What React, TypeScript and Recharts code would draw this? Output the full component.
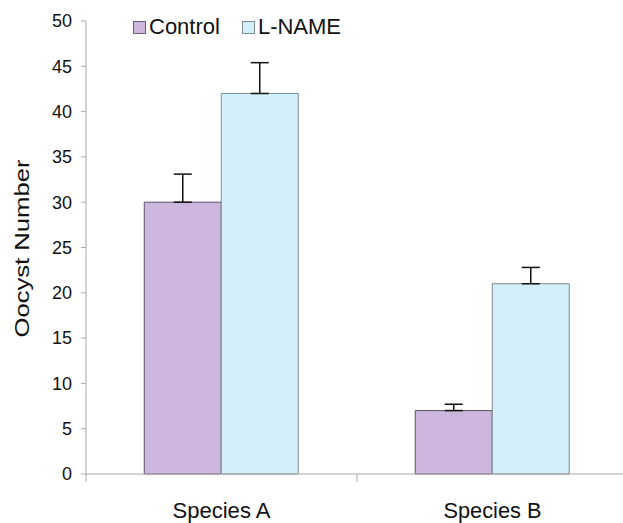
import React from "react";
import { Bar, BarChart, ErrorBar, XAxis, YAxis } from "recharts";

const categories = ["Species A", "Species B"];
const controlValues = [30, 7];
const controlErrors = [3.1, 0.7];
const lnameValues = [42, 21];
const lnameErrors = [3.4, 1.8];
const yTicks = [0, 5, 10, 15, 20, 25, 30, 35, 40, 45, 50];

const data = categories.map((name, i) => ({
  name,
  control: controlValues[i],
  controlErr: [0, controlErrors[i]],
  lname: lnameValues[i],
  lnameErr: [0, lnameErrors[i]],
}));

const font = "'Liberation Sans', Arial, sans-serif";

function CategoryTick({ x, y, payload }: any) {
  return (
    <g>
      <line x1={x - 135.5} x2={x - 135.5} y1={y - 8} y2={y} stroke="#aaa" />
      <text
        x={x}
        y={y + 36}
        textAnchor="middle"
        fontSize={22}
        fill="#111"
        fontFamily={font}
        textLength={98}
        lengthAdjust="spacingAndGlyphs"
      >
        {payload.value}
      </text>
    </g>
  );
}

function YLabel({ viewBox }: any) {
  const cy = viewBox.y + viewBox.height / 2;
  return (
    <text
      x={29}
      y={cy + 1}
      transform={`rotate(-90 29 ${cy + 1})`}
      textAnchor="middle"
      fontSize={20}
      fill="#111"
      fontFamily={font}
      textLength={178}
      lengthAdjust="spacingAndGlyphs"
    >
      Oocyst Number
    </text>
  );
}

const legendItems = [
  { label: "Control", fill: "#cdb6dd", stroke: "#6b5a78" },
  { label: "L-NAME", fill: "#d3effa", stroke: "#7d8b92" },
];

export default function App() {
  return (
    <div
      style={{
        position: "absolute",
        left: 0,
        top: 0,
        width: 623,
        height: 523,
        overflow: "hidden",
        background: "#fff",
      }}
    >
      <BarChart
        width={640}
        height={523}
        data={data}
        margin={{ top: 21, right: 12, bottom: 19, left: 28 }}
        barCategoryGap="21.5%"
        barGap={0}
      >
        <XAxis dataKey="name" stroke="#aaa" tickLine={false} tick={<CategoryTick />} interval={0} />
        <YAxis
          domain={[0, 50]}
          ticks={yTicks}
          width={58}
          stroke="#aaa"
          tickSize={5}
          tickMargin={9}
          tick={{ fill: "#111", fontSize: 18, fontFamily: font }}
          label={<YLabel />}
        />
        <Bar dataKey="control" fill="#cdb6dd" stroke="#5e4f6b" strokeWidth={1} isAnimationActive={false}>
          <ErrorBar dataKey="controlErr" width={9} stroke="#111" strokeWidth={1.5} isAnimationActive={false} />
        </Bar>
        <Bar dataKey="lname" fill="#d3effa" stroke="#7d8b92" strokeWidth={1} isAnimationActive={false}>
          <ErrorBar dataKey="lnameErr" width={9} stroke="#111" strokeWidth={1.5} isAnimationActive={false} />
        </Bar>
      </BarChart>
      <div
        style={{
          position: "absolute",
          left: 133,
          top: 13,
          display: "flex",
          alignItems: "center",
          fontFamily: font,
          fontSize: 22,
          lineHeight: "28px",
          color: "#111",
        }}
      >
        {legendItems.map((it) => (
          <div key={it.label} style={{ display: "flex", alignItems: "center", marginRight: 22 }}>
            <span
              style={{
                width: 11,
                height: 11,
                background: it.fill,
                border: `1px solid ${it.stroke}`,
                marginRight: 3,
              }}
            />
            {it.label}
          </div>
        ))}
      </div>
    </div>
  );
}
